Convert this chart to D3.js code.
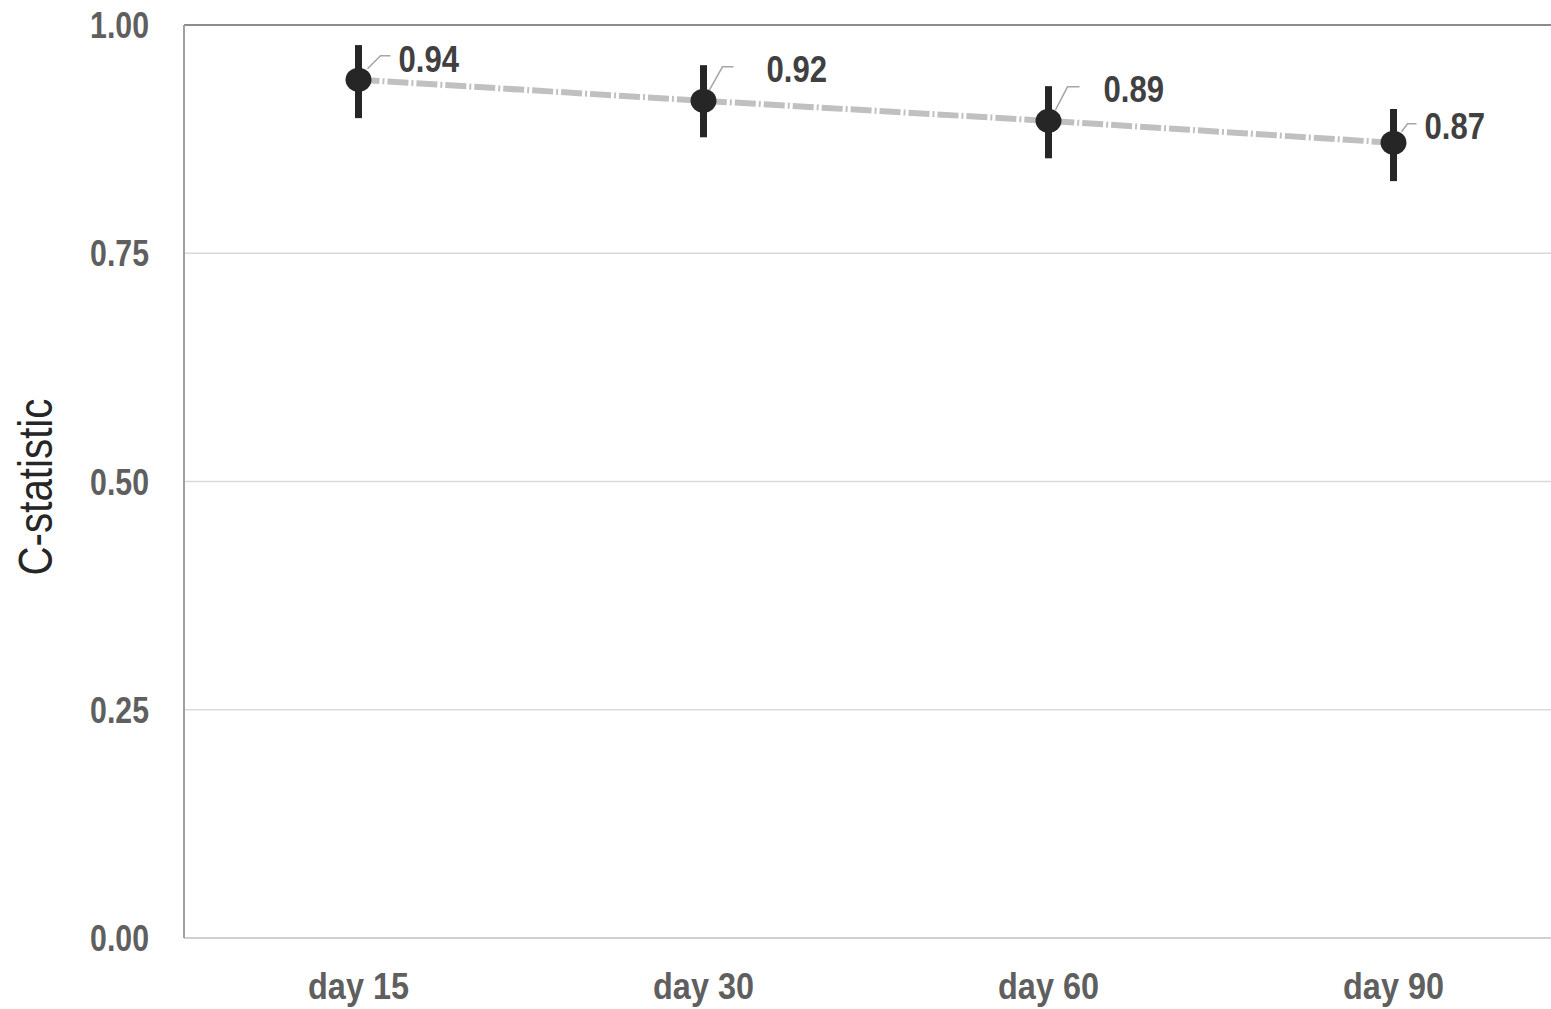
<!DOCTYPE html>
<html>
<head>
<meta charset="utf-8">
<script src="https://cdn.jsdelivr.net/npm/d3@7"></script>
<style>
  html, body { margin: 0; padding: 0; background: #fff; }
  svg { display: block; }
  text { font-family: "Liberation Sans", Arial, sans-serif; }
</style>
</head>
<body>
<svg id="chart" width="1551" height="1009"></svg>
<script>
// ---- data ----
const categories = ["day 15", "day 30", "day 60", "day 90"];
const cStat      = [0.940, 0.917, 0.895, 0.871];
const ciLower    = [0.898, 0.877, 0.854, 0.829];
const ciUpper    = [0.978, 0.956, 0.933, 0.908];
const valueLabels = ["0.94", "0.92", "0.89", "0.87"];
const yTicks     = [0, 0.25, 0.5, 0.75, 1.0];
const yTitle     = "C-statistic";

// ---- layout (label placement, relative to each point) ----
const labelLayout = [
  { lead: [[9, -11], [22, -24], [32, -24]], text: [40, -8] },
  { lead: [[6, -11], [19, -34], [30, -34]], text: [63, -19] },
  { lead: [[7, -11], [19, -34], [31, -34]], text: [55, -19] },
  { lead: [[8, -11], [14, -19], [23, -19]], text: [31, -4] }
];

const svg = d3.select("#chart");
const mLeft = 184, mTop = 25, mBottom = 938, mRight = 1551;

const x = d3.scaleBand().domain(categories).range([186, 1566]).padding(0);
const xc = d => x(d) + x.bandwidth() / 2;
const y = d3.scaleLinear().domain([0, 1]).range([mBottom, mTop]);

// emulate a narrow face (Arial Narrow look) by compressing glyphs
function condense(factor) {
  return sel => sel.each(function () {
    const len = this.getComputedTextLength();
    this.setAttribute("textLength", (len * factor).toFixed(1));
    this.setAttribute("lengthAdjust", "spacingAndGlyphs");
  });
}

// gridlines
svg.append("g").selectAll("line")
  .data(yTicks.filter(t => t > 0 && t < 1))
  .join("line")
  .attr("x1", mLeft).attr("x2", mRight)
  .attr("y1", d => y(d)).attr("y2", d => y(d))
  .attr("stroke", "#d9d9d9").attr("stroke-width", 1.5);

// bottom line
svg.append("line").attr("x1", mLeft).attr("x2", mRight)
  .attr("y1", y(0)).attr("y2", y(0))
  .attr("stroke", "#d0d0d0").attr("stroke-width", 2);
// top border
svg.append("line").attr("x1", mLeft).attr("x2", mRight)
  .attr("y1", y(1)).attr("y2", y(1))
  .attr("stroke", "#8c8c8c").attr("stroke-width", 2);
// left axis line
svg.append("line").attr("x1", mLeft).attr("x2", mLeft)
  .attr("y1", y(1)).attr("y2", y(0))
  .attr("stroke", "#a0a0a0").attr("stroke-width", 2);

// y tick labels
const yAxis = d3.axisLeft(y).tickValues(yTicks).tickFormat(d3.format(".2f")).tickSize(0).tickPadding(0);
const yg = svg.append("g").attr("transform", `translate(149,0)`).call(yAxis);
yg.select(".domain").remove();
yg.selectAll("text")
  .attr("font-family", "'Liberation Sans', Arial, sans-serif")
  .attr("font-size", 36).attr("font-weight", "bold").attr("fill", "#5f5f5f")
  .attr("dy", "0.35em")
  .call(condense(0.84));

// x tick labels
const xAxis = d3.axisBottom(x).tickSize(0).tickPadding(0);
const xg = svg.append("g").attr("transform", `translate(0,${mBottom})`).call(xAxis);
xg.select(".domain").remove();
xg.selectAll("text")
  .attr("font-family", "'Liberation Sans', Arial, sans-serif")
  .attr("font-size", 36).attr("font-weight", "bold").attr("fill", "#5f5f5f")
  .attr("dy", null).attr("y", 61)
  .call(condense(0.9));

// y title
svg.append("text")
  .attr("transform", `translate(52,487) rotate(-90)`)
  .attr("text-anchor", "middle")
  .attr("font-size", 48).attr("fill", "#262626")
  .text(yTitle)
  .call(condense(0.84));

// dashed line
const pts = categories.map((c, i) => [xc(c), y(cStat[i])]);
svg.append("path")
  .attr("d", d3.line()(pts))
  .attr("fill", "none")
  .attr("stroke", "#c0c0c0")
  .attr("stroke-width", 6)
  .attr("stroke-linecap", "butt")
  .attr("stroke-dasharray", "21,3,2,3");

// error bars
svg.append("g").selectAll("line")
  .data(categories)
  .join("line")
  .attr("x1", d => xc(d)).attr("x2", d => xc(d))
  .attr("y1", (d, i) => y(ciUpper[i])).attr("y2", (d, i) => y(ciLower[i]))
  .attr("stroke", "#262626").attr("stroke-width", 7);

// markers
svg.append("g").selectAll("ellipse")
  .data(categories)
  .join("ellipse")
  .attr("cx", d => xc(d)).attr("cy", (d, i) => y(cStat[i]))
  .attr("rx", 13).attr("ry", 12)
  .attr("fill", "#262626");

// leader lines
svg.append("g").selectAll("path")
  .data(categories)
  .join("path")
  .attr("d", (d, i) => d3.line()(labelLayout[i].lead.map(p => [xc(d) + p[0], y(cStat[i]) + p[1]])))
  .attr("fill", "none").attr("stroke", "#a6a6a6").attr("stroke-width", 1.5);

// value labels
svg.append("g").selectAll("text")
  .data(categories)
  .join("text")
  .attr("x", (d, i) => xc(d) + labelLayout[i].text[0])
  .attr("y", (d, i) => y(cStat[i]) + labelLayout[i].text[1])
  .attr("font-size", 37).attr("font-weight", "bold").attr("fill", "#404040")
  .text((d, i) => valueLabels[i])
  .call(condense(0.84));
</script>
</body>
</html>
